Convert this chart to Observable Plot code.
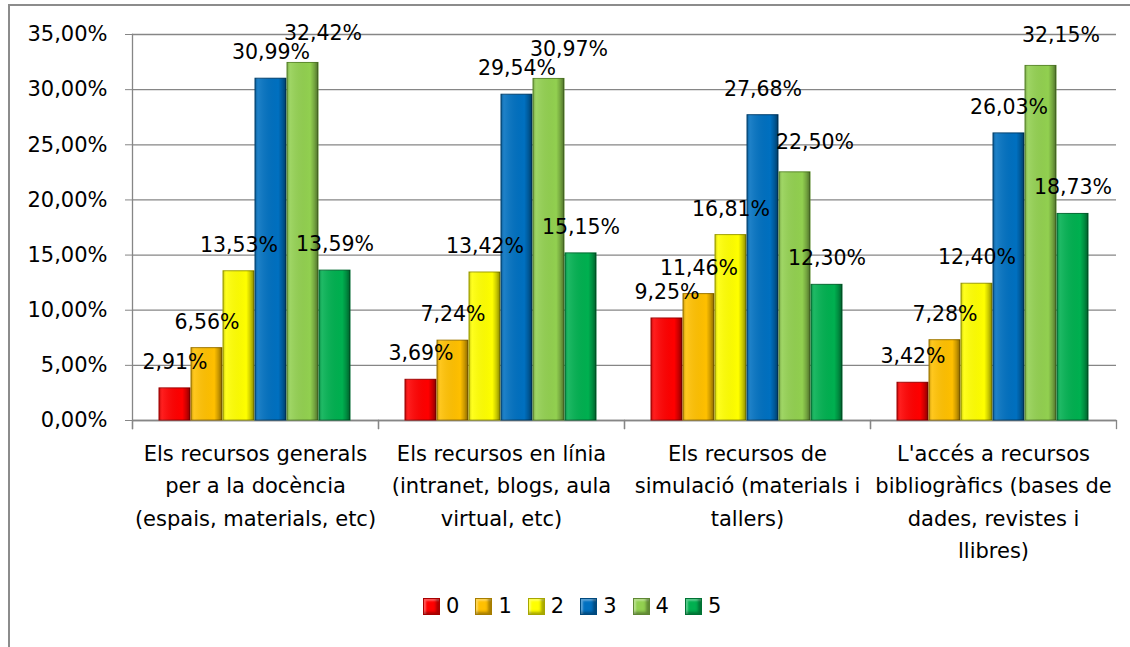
<!DOCTYPE html>
<html>
<head>
<meta charset="utf-8">
<script src="https://cdn.jsdelivr.net/npm/d3@7"></script>
<script src="https://cdn.jsdelivr.net/npm/@observablehq/plot@0.6"></script>
<style>
  body { margin: 0; background: #fff; font-family: "DejaVu Sans", sans-serif; }
  #wrap { position: relative; width: 1130px; height: 647px; overflow: hidden; background: #fff; }
  #border { position: absolute; left: 8px; top: 4px; width: 1140px; height: 660px; border: 2px solid #8c8c8c; box-sizing: border-box; }
  #chart { position: absolute; left: 0; top: 0; }
  #legend { position: absolute; left: 423px; top: 594px; display: flex; align-items: center; font-size: 21px; color: #000; }
  .item { display: flex; align-items: center; margin-right: 16px; }
  .sw { width: 17px; height: 17px; margin-right: 6px; box-sizing: border-box; border: 1px solid rgba(0,0,0,0.35); box-shadow: inset -3px -2px 3px rgba(0,0,0,0.35), inset 2px 2px 2px rgba(255,255,255,0.35); }
</style>
</head>
<body>
<svg width="0" height="0" style="position:absolute">
  <defs>
    <linearGradient id="shade" x1="0" x2="1" y1="0" y2="0">
      <stop offset="0" stop-color="#000" stop-opacity="0.22"/>
      <stop offset="0.1" stop-color="#fff" stop-opacity="0.12"/>
      <stop offset="0.75" stop-color="#000" stop-opacity="0"/>
      <stop offset="0.88" stop-color="#000" stop-opacity="0.2"/>
      <stop offset="1" stop-color="#000" stop-opacity="0.45"/>
    </linearGradient>
  </defs>
</svg>
<div id="wrap">
  <div id="border"></div>
  <div id="chart"></div>
  <div id="legend"></div>
</div>
<script>
// ---- data ----
const categories = [
  "Els recursos generals\nper a la docència\n(espais, materials, etc)",
  "Els recursos en línia\n(intranet, blogs, aula\nvirtual, etc)",
  "Els recursos de\nsimulació (materials i\ntallers)",
  "L'accés a recursos\nbibliogràfics (bases de\ndades, revistes i\nllibres)"
];
const series = ["0", "1", "2", "3", "4", "5"];
const values0 = [2.91, 3.69, 9.25, 3.42];
const values1 = [6.56, 7.24, 11.46, 7.28];
const values2 = [13.53, 13.42, 16.81, 12.40];
const values3 = [30.99, 29.54, 27.68, 26.03];
const values4 = [32.42, 30.97, 22.50, 32.15];
const values5 = [13.59, 15.15, 12.30, 18.73];
const yTicks = [0, 5, 10, 15, 20, 25, 30, 35];
const colors = ["#ff0000", "#ffc000", "#ffff00", "#0070c0", "#92d050", "#00b050"];
const edgeColors = ["#a00000", "#a07800", "#a0a000", "#00406e", "#5a8a2a", "#006a30"];

const seriesValues = [values0, values1, values2, values3, values4, values5];
const rows = [];
categories.forEach((c, i) => series.forEach((s, j) => rows.push({category: c, series: s, value: seriesValues[j][i]})));

const fmt = d => d.toFixed(2).replace(".", ",") + "%";
const grey = "#868686";
const shifted = "4"; // labels of this series sit to the right, as in the reference

const chart = Plot.plot({
  width: 1130,
  height: 580,
  marginLeft: 131,
  marginRight: 13,
  marginTop: 34,
  marginBottom: 160,
  style: {fontFamily: "DejaVu Sans, sans-serif", fontSize: "21px", color: "#000", background: "transparent", overflow: "visible"},
  fx: {domain: categories, padding: 0, label: null},
  x: {domain: series, paddingInner: 0.02, paddingOuter: 0.74, axis: null},
  y: {domain: [0, 35], label: null},
  color: {domain: series, range: colors},
  marks: [
    Plot.gridY(yTicks, {stroke: grey, strokeOpacity: 1, strokeWidth: 1.3}),
    Plot.frame({anchor: "left", fx: categories[0], insetBottom: -8, stroke: grey, strokeWidth: 1.3}),
    Plot.frame({anchor: "left", insetTop: 386, insetBottom: -8, stroke: grey, strokeWidth: 1.3}),
    Plot.frame({anchor: "right", insetTop: 386, insetBottom: -8, stroke: grey, strokeWidth: 1.3}),
    Plot.ruleY([0], {stroke: grey, strokeWidth: 1.3}),
    Plot.barY(rows, {fx: "category", x: "series", y: "value", fill: "series",
      stroke: d => edgeColors[series.indexOf(d.series)], strokeWidth: 1}),
    Plot.barY(rows, {fx: "category", x: "series", y: "value", fill: "url(#shade)"}),
    Plot.text(rows.filter(d => d.series !== shifted), {fx: "category", x: "series", y: "value", text: d => fmt(d.value),
      dy: -26, fontSize: 20.5, fill: "#000"}),
    Plot.text(rows.filter(d => d.series === shifted), {fx: "category", x: "series", y: "value", text: d => fmt(d.value),
      dy: -30, dx: 20, fontSize: 20.5, fill: "#000"}),
    Plot.axisY(yTicks, {tickFormat: fmt, tickSize: 7, tickPadding: 18, stroke: grey, fontSize: 21, label: null}),
    Plot.axisFx({anchor: "bottom", tickSize: 0, tickPadding: 17, lineHeight: 1.55, fontSize: 21, label: null})
  ]
});
document.getElementById("chart").appendChild(chart);

// legend
const legend = document.getElementById("legend");
series.forEach((s, i) => {
  const item = document.createElement("div");
  item.className = "item";
  const sw = document.createElement("div");
  sw.className = "sw";
  sw.style.background = colors[i];
  const t = document.createElement("span");
  t.textContent = s;
  item.appendChild(sw);
  item.appendChild(t);
  legend.appendChild(item);
});
</script>
</body>
</html>
